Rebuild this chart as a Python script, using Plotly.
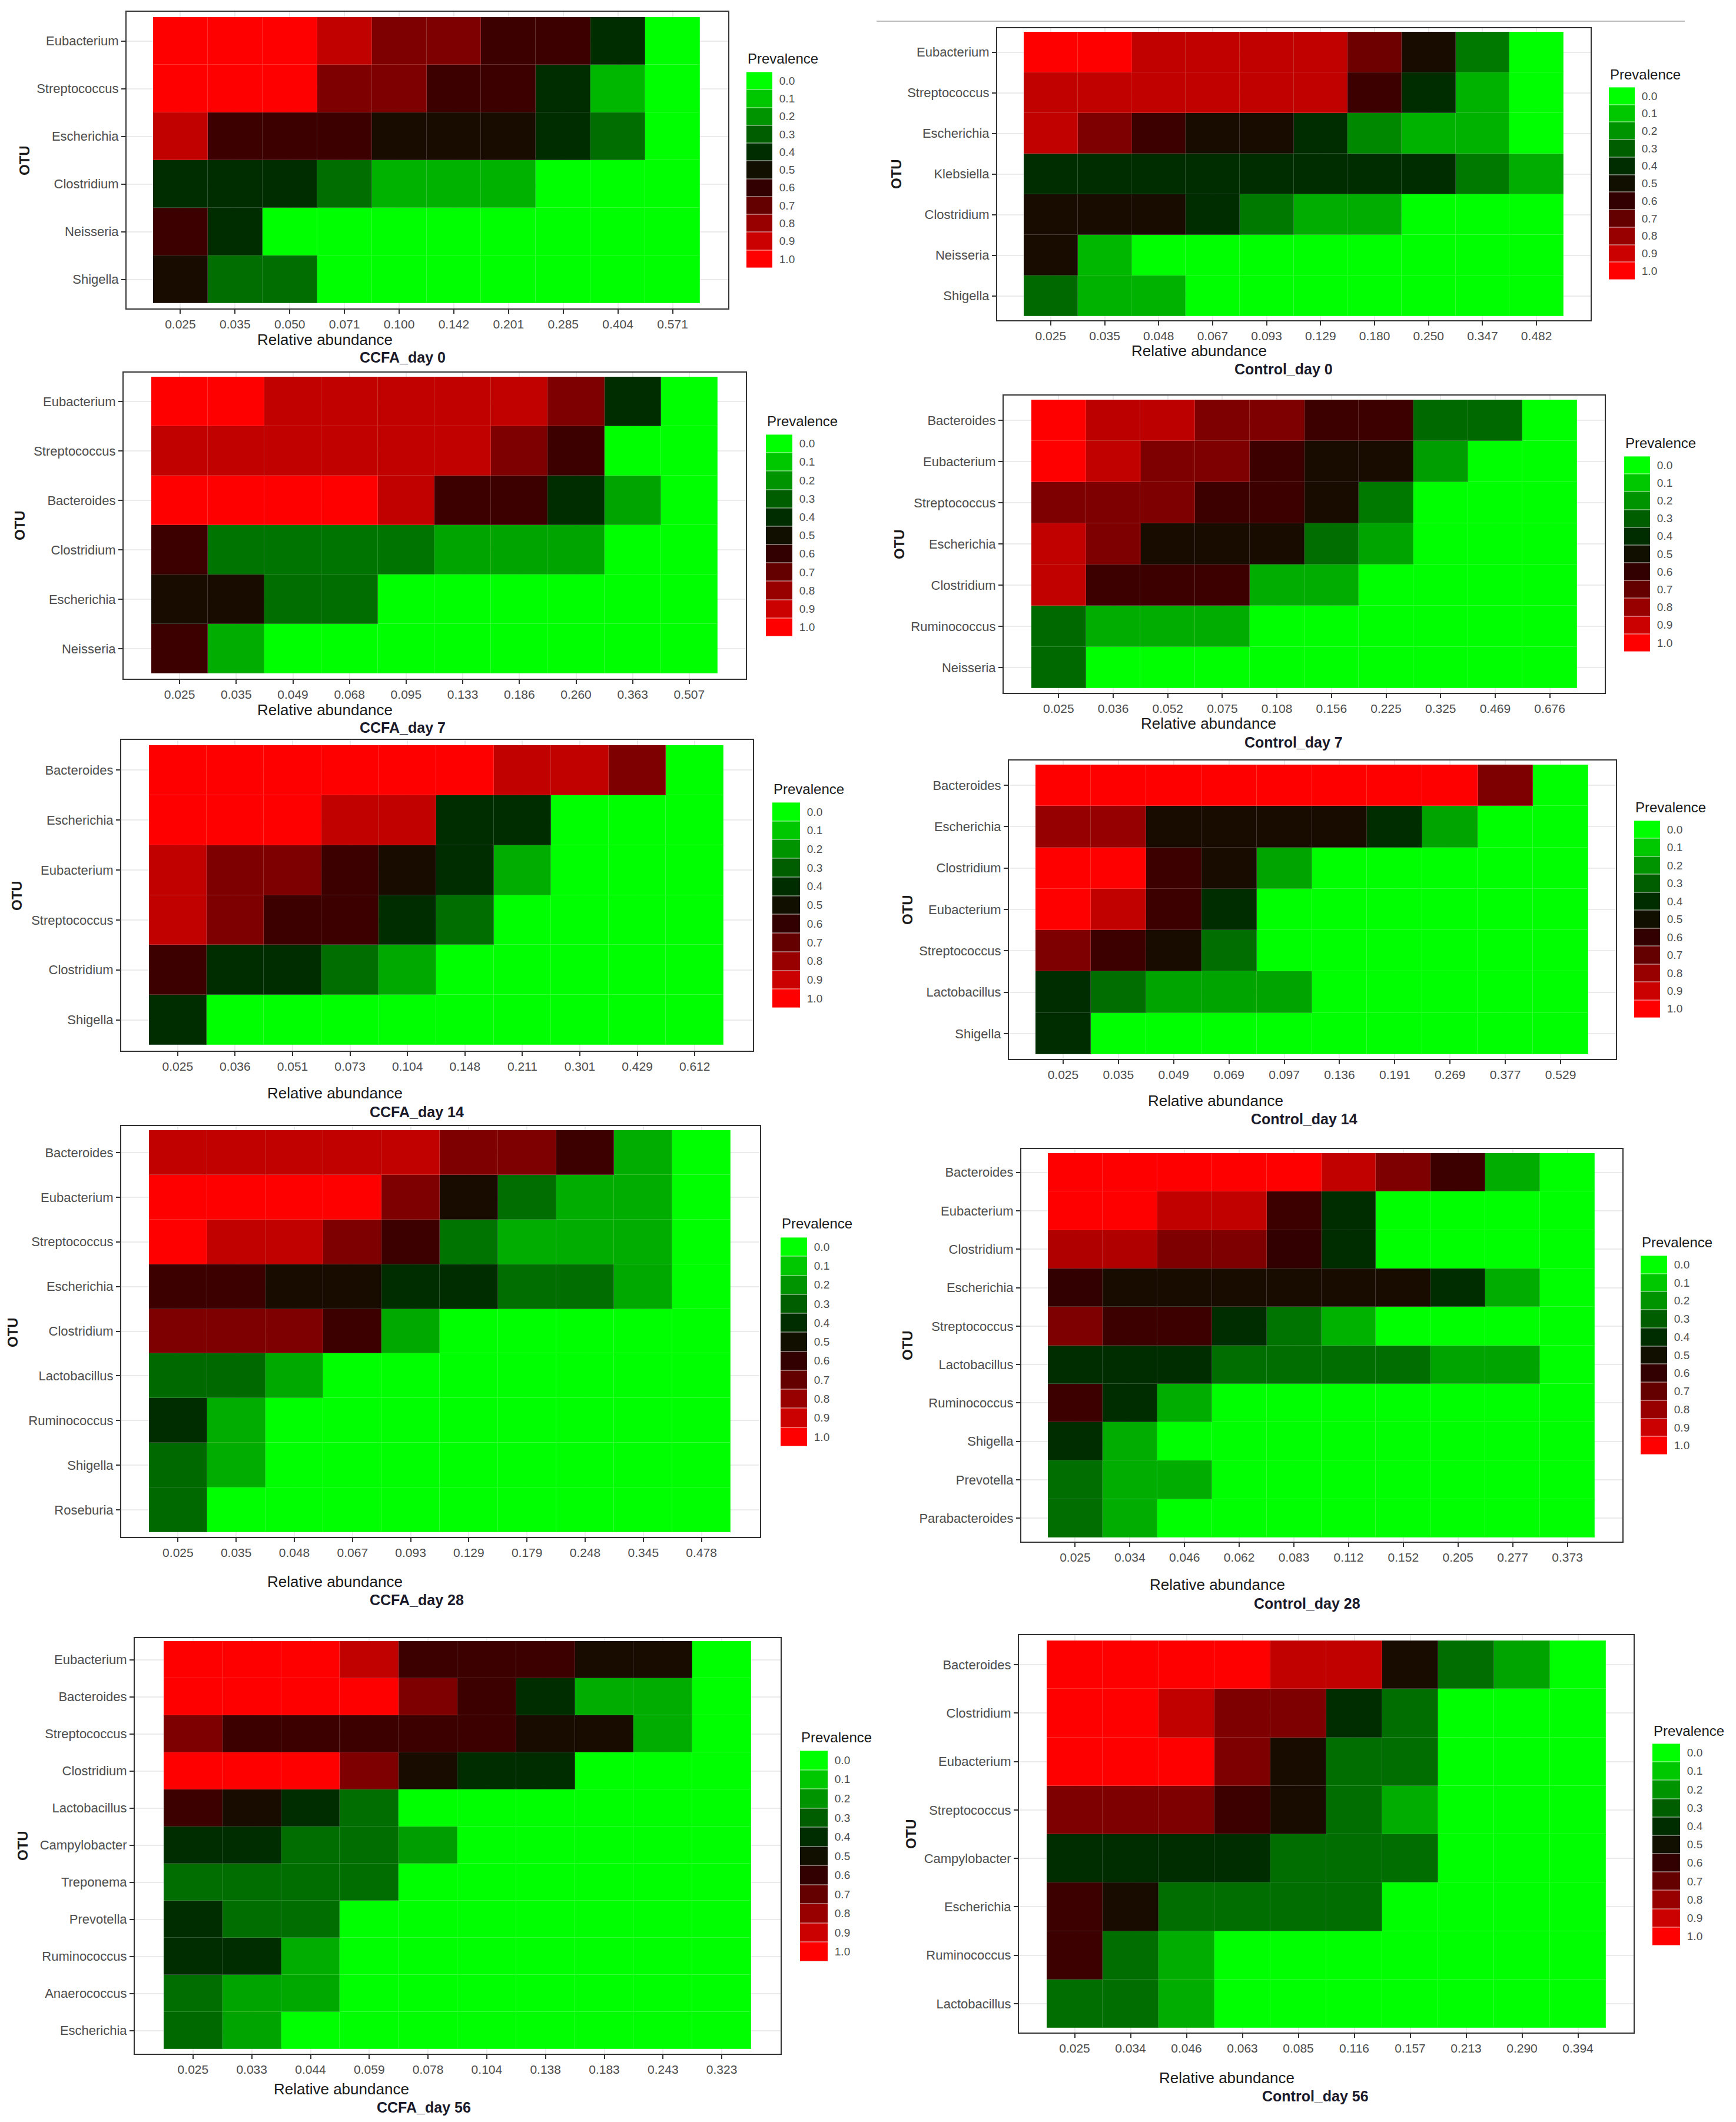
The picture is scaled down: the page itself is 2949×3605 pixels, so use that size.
import plotly.graph_objects as go

W, H = 2949, 3605

# ---------------- colour levels / legend ----------------
LEVEL_COLORS = ["#00FF00", "#00C800", "#009400", "#005E00", "#002E00",
                "#120F00", "#330000", "#650000", "#980000", "#CB0000", "#FF0000"]
LEGEND_VALUES = [0.0, 0.1, 0.2, 0.3, 0.4, 0.5, 0.6, 0.7, 0.8, 0.9, 1.0]
LEGEND_LABELS = ["0.0", "0.1", "0.2", "0.3", "0.4", "0.5", "0.6", "0.7", "0.8", "0.9", "1.0"]

# ---------------- data ----------------
CCFA_D0_TITLE = "CCFA_day 0"
CCFA_D0_ABUND = ["0.025", "0.035", "0.050", "0.071", "0.100", "0.142", "0.201", "0.285", "0.404", "0.571"]
CCFA_D0_OTU = ["Eubacterium", "Streptococcus", "Escherichia", "Clostridium", "Neisseria", "Shigella"]
CCFA_D0_PREV = [
    [1.0, 1.0, 1.0, 0.88, 0.75, 0.75, 0.62, 0.62, 0.40, 0.0],
    [1.0, 1.0, 1.0, 0.75, 0.75, 0.62, 0.62, 0.40, 0.13, 0.0],
    [0.88, 0.62, 0.62, 0.62, 0.52, 0.52, 0.52, 0.40, 0.27, 0.0],
    [0.40, 0.40, 0.40, 0.27, 0.14, 0.14, 0.14, 0.0, 0.0, 0.0],
    [0.62, 0.40, 0.0, 0.0, 0.0, 0.0, 0.0, 0.0, 0.0, 0.0],
    [0.52, 0.27, 0.27, 0.0, 0.0, 0.0, 0.0, 0.0, 0.0, 0.0],
]

CTRL_D0_TITLE = "Control_day 0"
CTRL_D0_ABUND = ["0.025", "0.035", "0.048", "0.067", "0.093", "0.129", "0.180", "0.250", "0.347", "0.482"]
CTRL_D0_OTU = ["Eubacterium", "Streptococcus", "Escherichia", "Klebsiella", "Clostridium", "Neisseria", "Shigella"]
CTRL_D0_PREV = [
    [1.0, 1.0, 0.88, 0.88, 0.88, 0.88, 0.72, 0.52, 0.25, 0.0],
    [0.88, 0.88, 0.88, 0.88, 0.88, 0.88, 0.62, 0.40, 0.14, 0.0],
    [0.88, 0.75, 0.62, 0.52, 0.52, 0.40, 0.22, 0.14, 0.14, 0.0],
    [0.40, 0.40, 0.40, 0.40, 0.40, 0.40, 0.40, 0.40, 0.25, 0.15],
    [0.52, 0.52, 0.52, 0.40, 0.25, 0.15, 0.15, 0.0, 0.0, 0.0],
    [0.52, 0.13, 0.0, 0.0, 0.0, 0.0, 0.0, 0.0, 0.0, 0.0],
    [0.28, 0.14, 0.14, 0.0, 0.0, 0.0, 0.0, 0.0, 0.0, 0.0],
]

CCFA_D7_TITLE = "CCFA_day 7"
CCFA_D7_ABUND = ["0.025", "0.035", "0.049", "0.068", "0.095", "0.133", "0.186", "0.260", "0.363", "0.507"]
CCFA_D7_OTU = ["Eubacterium", "Streptococcus", "Bacteroides", "Clostridium", "Escherichia", "Neisseria"]
CCFA_D7_PREV = [
    [1.0, 1.0, 0.88, 0.88, 0.88, 0.88, 0.88, 0.75, 0.40, 0.0],
    [0.88, 0.88, 0.88, 0.88, 0.88, 0.88, 0.75, 0.62, 0.0, 0.0],
    [1.0, 1.0, 1.0, 1.0, 0.88, 0.62, 0.62, 0.40, 0.17, 0.0],
    [0.62, 0.26, 0.26, 0.26, 0.26, 0.17, 0.17, 0.17, 0.0, 0.0],
    [0.52, 0.52, 0.27, 0.27, 0.0, 0.0, 0.0, 0.0, 0.0, 0.0],
    [0.62, 0.15, 0.0, 0.0, 0.0, 0.0, 0.0, 0.0, 0.0, 0.0],
]

CTRL_D7_TITLE = "Control_day 7"
CTRL_D7_ABUND = ["0.025", "0.036", "0.052", "0.075", "0.108", "0.156", "0.225", "0.325", "0.469", "0.676"]
CTRL_D7_OTU = ["Bacteroides", "Eubacterium", "Streptococcus", "Escherichia", "Clostridium", "Ruminococcus", "Neisseria"]
CTRL_D7_PREV = [
    [1.0, 0.87, 0.87, 0.75, 0.75, 0.62, 0.62, 0.28, 0.28, 0.0],
    [1.0, 0.88, 0.75, 0.75, 0.62, 0.52, 0.52, 0.18, 0.0, 0.0],
    [0.75, 0.75, 0.75, 0.62, 0.62, 0.52, 0.25, 0.0, 0.0, 0.0],
    [0.88, 0.75, 0.52, 0.52, 0.52, 0.27, 0.17, 0.0, 0.0, 0.0],
    [0.88, 0.62, 0.62, 0.62, 0.15, 0.15, 0.0, 0.0, 0.0, 0.0],
    [0.28, 0.15, 0.15, 0.15, 0.0, 0.0, 0.0, 0.0, 0.0, 0.0],
    [0.28, 0.0, 0.0, 0.0, 0.0, 0.0, 0.0, 0.0, 0.0, 0.0],
]

CCFA_D14_TITLE = "CCFA_day 14"
CCFA_D14_ABUND = ["0.025", "0.036", "0.051", "0.073", "0.104", "0.148", "0.211", "0.301", "0.429", "0.612"]
CCFA_D14_OTU = ["Bacteroides", "Escherichia", "Eubacterium", "Streptococcus", "Clostridium", "Shigella"]
CCFA_D14_PREV = [
    [1.0, 1.0, 1.0, 1.0, 1.0, 1.0, 0.88, 0.88, 0.75, 0.0],
    [1.0, 1.0, 1.0, 0.88, 0.88, 0.40, 0.40, 0.0, 0.0, 0.0],
    [0.88, 0.75, 0.75, 0.62, 0.52, 0.40, 0.15, 0.0, 0.0, 0.0],
    [0.88, 0.75, 0.62, 0.62, 0.40, 0.27, 0.0, 0.0, 0.0, 0.0],
    [0.62, 0.40, 0.40, 0.27, 0.16, 0.0, 0.0, 0.0, 0.0, 0.0],
    [0.40, 0.0, 0.0, 0.0, 0.0, 0.0, 0.0, 0.0, 0.0, 0.0],
]

CTRL_D14_TITLE = "Control_day 14"
CTRL_D14_ABUND = ["0.025", "0.035", "0.049", "0.069", "0.097", "0.136", "0.191", "0.269", "0.377", "0.529"]
CTRL_D14_OTU = ["Bacteroides", "Escherichia", "Clostridium", "Eubacterium", "Streptococcus", "Lactobacillus", "Shigella"]
CTRL_D14_PREV = [
    [1.0, 1.0, 1.0, 1.0, 1.0, 1.0, 1.0, 1.0, 0.75, 0.0],
    [0.80, 0.80, 0.52, 0.52, 0.52, 0.52, 0.40, 0.17, 0.0, 0.0],
    [1.0, 1.0, 0.62, 0.52, 0.17, 0.0, 0.0, 0.0, 0.0, 0.0],
    [1.0, 0.88, 0.62, 0.40, 0.0, 0.0, 0.0, 0.0, 0.0, 0.0],
    [0.75, 0.62, 0.52, 0.27, 0.0, 0.0, 0.0, 0.0, 0.0, 0.0],
    [0.40, 0.27, 0.17, 0.17, 0.17, 0.0, 0.0, 0.0, 0.0, 0.0],
    [0.40, 0.0, 0.0, 0.0, 0.0, 0.0, 0.0, 0.0, 0.0, 0.0],
]

CCFA_D28_TITLE = "CCFA_day 28"
CCFA_D28_ABUND = ["0.025", "0.035", "0.048", "0.067", "0.093", "0.129", "0.179", "0.248", "0.345", "0.478"]
CCFA_D28_OTU = ["Bacteroides", "Eubacterium", "Streptococcus", "Escherichia", "Clostridium",
                "Lactobacillus", "Ruminococcus", "Shigella", "Roseburia"]
CCFA_D28_PREV = [
    [0.88, 0.88, 0.88, 0.88, 0.88, 0.75, 0.75, 0.62, 0.15, 0.0],
    [1.0, 1.0, 1.0, 1.0, 0.75, 0.52, 0.27, 0.15, 0.15, 0.0],
    [1.0, 0.88, 0.88, 0.75, 0.62, 0.26, 0.15, 0.15, 0.15, 0.0],
    [0.62, 0.62, 0.52, 0.52, 0.40, 0.40, 0.27, 0.27, 0.16, 0.0],
    [0.75, 0.75, 0.75, 0.62, 0.16, 0.0, 0.0, 0.0, 0.0, 0.0],
    [0.28, 0.28, 0.16, 0.0, 0.0, 0.0, 0.0, 0.0, 0.0, 0.0],
    [0.40, 0.15, 0.0, 0.0, 0.0, 0.0, 0.0, 0.0, 0.0, 0.0],
    [0.28, 0.15, 0.0, 0.0, 0.0, 0.0, 0.0, 0.0, 0.0, 0.0],
    [0.28, 0.0, 0.0, 0.0, 0.0, 0.0, 0.0, 0.0, 0.0, 0.0],
]

CTRL_D28_TITLE = "Control_day 28"
CTRL_D28_ABUND = ["0.025", "0.034", "0.046", "0.062", "0.083", "0.112", "0.152", "0.205", "0.277", "0.373"]
CTRL_D28_OTU = ["Bacteroides", "Eubacterium", "Clostridium", "Escherichia", "Streptococcus",
                "Lactobacillus", "Ruminococcus", "Shigella", "Prevotella", "Parabacteroides"]
CTRL_D28_PREV = [
    [1.0, 1.0, 1.0, 1.0, 1.0, 0.88, 0.75, 0.62, 0.15, 0.0],
    [1.0, 1.0, 0.88, 0.88, 0.62, 0.40, 0.0, 0.0, 0.0, 0.0],
    [0.85, 0.85, 0.75, 0.75, 0.60, 0.40, 0.0, 0.0, 0.0, 0.0],
    [0.60, 0.52, 0.52, 0.52, 0.52, 0.52, 0.52, 0.40, 0.15, 0.0],
    [0.75, 0.62, 0.62, 0.40, 0.26, 0.14, 0.0, 0.0, 0.0, 0.0],
    [0.40, 0.40, 0.40, 0.27, 0.27, 0.27, 0.27, 0.17, 0.17, 0.0],
    [0.62, 0.40, 0.15, 0.0, 0.0, 0.0, 0.0, 0.0, 0.0, 0.0],
    [0.40, 0.15, 0.0, 0.0, 0.0, 0.0, 0.0, 0.0, 0.0, 0.0],
    [0.27, 0.15, 0.15, 0.0, 0.0, 0.0, 0.0, 0.0, 0.0, 0.0],
    [0.27, 0.15, 0.0, 0.0, 0.0, 0.0, 0.0, 0.0, 0.0, 0.0],
]

CCFA_D56_TITLE = "CCFA_day 56"
CCFA_D56_ABUND = ["0.025", "0.033", "0.044", "0.059", "0.078", "0.104", "0.138", "0.183", "0.243", "0.323"]
CCFA_D56_OTU = ["Eubacterium", "Bacteroides", "Streptococcus", "Clostridium", "Lactobacillus", "Campylobacter",
                "Treponema", "Prevotella", "Ruminococcus", "Anaerococcus", "Escherichia"]
CCFA_D56_PREV = [
    [1.0, 1.0, 1.0, 0.88, 0.62, 0.62, 0.62, 0.52, 0.52, 0.0],
    [1.0, 1.0, 1.0, 1.0, 0.75, 0.62, 0.40, 0.15, 0.15, 0.0],
    [0.75, 0.62, 0.62, 0.62, 0.62, 0.62, 0.52, 0.52, 0.15, 0.0],
    [1.0, 1.0, 1.0, 0.75, 0.52, 0.40, 0.40, 0.0, 0.0, 0.0],
    [0.62, 0.52, 0.40, 0.27, 0.0, 0.0, 0.0, 0.0, 0.0, 0.0],
    [0.40, 0.40, 0.27, 0.27, 0.18, 0.0, 0.0, 0.0, 0.0, 0.0],
    [0.27, 0.27, 0.27, 0.27, 0.0, 0.0, 0.0, 0.0, 0.0, 0.0],
    [0.40, 0.27, 0.27, 0.0, 0.0, 0.0, 0.0, 0.0, 0.0, 0.0],
    [0.40, 0.40, 0.15, 0.0, 0.0, 0.0, 0.0, 0.0, 0.0, 0.0],
    [0.27, 0.17, 0.16, 0.0, 0.0, 0.0, 0.0, 0.0, 0.0, 0.0],
    [0.28, 0.17, 0.0, 0.0, 0.0, 0.0, 0.0, 0.0, 0.0, 0.0],
]

CTRL_D56_TITLE = "Control_day 56"
CTRL_D56_ABUND = ["0.025", "0.034", "0.046", "0.063", "0.085", "0.116", "0.157", "0.213", "0.290", "0.394"]
CTRL_D56_OTU = ["Bacteroides", "Clostridium", "Eubacterium", "Streptococcus", "Campylobacter",
                "Escherichia", "Ruminococcus", "Lactobacillus"]
CTRL_D56_PREV = [
    [1.0, 1.0, 1.0, 1.0, 0.88, 0.88, 0.52, 0.27, 0.17, 0.0],
    [1.0, 1.0, 0.88, 0.75, 0.75, 0.40, 0.27, 0.0, 0.0, 0.0],
    [1.0, 1.0, 1.0, 0.75, 0.52, 0.27, 0.27, 0.0, 0.0, 0.0],
    [0.75, 0.75, 0.75, 0.62, 0.52, 0.27, 0.15, 0.0, 0.0, 0.0],
    [0.40, 0.40, 0.40, 0.40, 0.27, 0.27, 0.27, 0.0, 0.0, 0.0],
    [0.62, 0.52, 0.27, 0.27, 0.27, 0.27, 0.0, 0.0, 0.0, 0.0],
    [0.62, 0.27, 0.15, 0.0, 0.0, 0.0, 0.0, 0.0, 0.0, 0.0],
    [0.27, 0.27, 0.15, 0.0, 0.0, 0.0, 0.0, 0.0, 0.0, 0.0],
]

PANELS = [
    (CCFA_D0_TITLE, CCFA_D0_ABUND, CCFA_D0_OTU, CCFA_D0_PREV),
    (CTRL_D0_TITLE, CTRL_D0_ABUND, CTRL_D0_OTU, CTRL_D0_PREV),
    (CCFA_D7_TITLE, CCFA_D7_ABUND, CCFA_D7_OTU, CCFA_D7_PREV),
    (CTRL_D7_TITLE, CTRL_D7_ABUND, CTRL_D7_OTU, CTRL_D7_PREV),
    (CCFA_D14_TITLE, CCFA_D14_ABUND, CCFA_D14_OTU, CCFA_D14_PREV),
    (CTRL_D14_TITLE, CTRL_D14_ABUND, CTRL_D14_OTU, CTRL_D14_PREV),
    (CCFA_D28_TITLE, CCFA_D28_ABUND, CCFA_D28_OTU, CCFA_D28_PREV),
    (CTRL_D28_TITLE, CTRL_D28_ABUND, CTRL_D28_OTU, CTRL_D28_PREV),
    (CCFA_D56_TITLE, CCFA_D56_ABUND, CCFA_D56_OTU, CCFA_D56_PREV),
    (CTRL_D56_TITLE, CTRL_D56_ABUND, CTRL_D56_OTU, CTRL_D56_PREV),
]

# ---------------- layout geometry (pixels, top-left origin) ----------------
GEOM = [
    dict(border=(215, 1237, 20, 524), cells=(260, 1189, 29, 515), legend=(1268, 1312, 122, 455),
         prev_y=100, ra=(552, 577), title=(684, 607), otu=(42, 273)),
    dict(border=(1694, 2702, 48, 544), cells=(1739, 2656, 54, 537), legend=(2733, 2777, 148, 475),
         prev_y=126, ra=(2037, 596), title=(2180, 627), otu=(1522, 296)),
    dict(border=(210, 1267, 633, 1153), cells=(257, 1219, 640, 1144), legend=(1301, 1346, 738, 1081),
         prev_y=715, ra=(552, 1206), title=(684, 1236), otu=(33, 893)),
    dict(border=(1705, 2726, 672, 1177), cells=(1752, 2679, 679, 1169), legend=(2759, 2803, 775, 1107),
         prev_y=752, ra=(2053, 1229), title=(2197, 1261), otu=(1527, 925)),
    dict(border=(206, 1279, 1257, 1785), cells=(253, 1229, 1266, 1775), legend=(1312, 1359, 1363, 1712),
         prev_y=1340, ra=(569, 1857), title=(708, 1889), otu=(28, 1522)),
    dict(border=(1714, 2745, 1292, 1799), cells=(1759, 2698, 1299, 1791), legend=(2776, 2820, 1394, 1729),
         prev_y=1372, ra=(2065, 1870), title=(2215, 1901), otu=(1541, 1546)),
    dict(border=(206, 1291, 1913, 2611), cells=(253, 1241, 1920, 2603), legend=(1326, 1371, 2102, 2457),
         prev_y=2078, ra=(569, 2687), title=(708, 2718), otu=(21, 2264)),
    dict(border=(1735, 2756, 1952, 2619), cells=(1780, 2709, 1959, 2612), legend=(2787, 2832, 2133, 2471),
         prev_y=2110, ra=(2068, 2692), title=(2220, 2724), otu=(1541, 2286)),
    dict(border=(229, 1326, 2783, 3489), cells=(278, 1276, 2788, 3481), legend=(1359, 1406, 2974, 3332),
         prev_y=2951, ra=(580, 3549), title=(720, 3580), otu=(38, 3136)),
    dict(border=(1731, 2775, 2778, 3453), cells=(1778, 2728, 2787, 3445), legend=(2807, 2854, 2962, 3305),
         prev_y=2940, ra=(2084, 3530), title=(2234, 3561), otu=(1547, 3116)),
]

FONT = "Liberation Sans, Arial, sans-serif"
TICK_GREY = "#4D4D4D"
DARK = "#1A1A1A"


def px(x):
    return x / W


def py(y):
    return 1 - y / H


colorscale = [[i / 10, c] for i, c in enumerate(LEVEL_COLORS)]

fig = go.Figure()
layout = {}
annotations = []

for i, ((title, abund, otu, prev), g) in enumerate(zip(PANELS, GEOM)):
    km, kl = 2 * i + 1, 2 * i + 2
    sm = "" if km == 1 else str(km)
    sl = str(kl)
    bx0, bx1, by0, by1 = g["border"]
    cx0, cx1, cy0, cy1 = g["cells"]
    n, m = len(abund), len(otu)
    cw = (cx1 - cx0) / n
    ch = (cy1 - cy0) / m
    xr = [-0.5 - (cx0 - bx0) / cw, n - 0.5 + (bx1 - cx1) / cw]
    yr = [m - 0.5 + (by1 - cy1) / ch, -0.5 - (cy0 - by0) / ch]

    # tiles with thin white separators, then a semi-opaque copy to soften them
    fig.add_trace(go.Heatmap(
        z=prev, x=abund, y=otu, xaxis="x" + sm, yaxis="y" + sm,
        colorscale=colorscale, zmin=0, zmax=1, showscale=False,
        xgap=1, ygap=1, hoverinfo="skip"))
    fig.add_trace(go.Heatmap(
        z=prev, x=abund, y=otu, xaxis="x" + sm, yaxis="y" + sm,
        colorscale=colorscale, zmin=0, zmax=1, showscale=False,
        opacity=0.82, hoverinfo="skip"))

    common = dict(showgrid=True, gridcolor="#EBEBEB", gridwidth=2, zeroline=False,
                  showline=True, mirror=True, linecolor="#333333", linewidth=2,
                  ticks="outside", ticklen=7, tickwidth=2, tickcolor="#333333",
                  type="category", fixedrange=True)
    layout["xaxis" + sm] = dict(domain=[px(bx0), px(bx1)], range=xr, anchor="y" + sm,
                                tickfont=dict(family=FONT, size=21, color=TICK_GREY), **common)
    layout["yaxis" + sm] = dict(domain=[py(by1), py(by0)], range=yr, anchor="x" + sm,
                                tickfont=dict(family=FONT, size=22, color=TICK_GREY), **common)

    # legend (discrete keys)
    lx0, lx1, ly0, ly1 = g["legend"]
    leg_z = [[v] for v in LEGEND_VALUES]
    fig.add_trace(go.Heatmap(
        z=leg_z, x=[0], y=LEGEND_LABELS,
        xaxis="x" + sl, yaxis="y" + sl, colorscale=colorscale, zmin=0, zmax=1,
        showscale=False, ygap=2, hoverinfo="skip"))
    fig.add_trace(go.Heatmap(
        z=leg_z, x=[0], y=LEGEND_LABELS,
        xaxis="x" + sl, yaxis="y" + sl, colorscale=colorscale, zmin=0, zmax=1,
        showscale=False, opacity=0.6, hoverinfo="skip"))
    layout["xaxis" + sl] = dict(domain=[px(lx0), px(lx1)], range=[-0.5, 0.5], anchor="y" + sl,
                                showticklabels=False, showgrid=False, zeroline=False,
                                showline=False, ticks="", fixedrange=True)
    layout["yaxis" + sl] = dict(domain=[py(ly1), py(ly0)], range=[len(LEGEND_LABELS) - 0.5, -0.5],
                                anchor="x" + sl, side="right", type="category",
                                showgrid=False, zeroline=False, showline=False,
                                ticks="outside", ticklen=7, tickcolor="rgba(0,0,0,0)",
                                tickfont=dict(family=FONT, size=19, color=TICK_GREY), fixedrange=True)

    annotations.append(dict(text="Prevalence", x=px(lx0), y=py(g["prev_y"]), xref="paper", yref="paper",
                            xanchor="left", yanchor="middle", showarrow=False,
                            font=dict(family=FONT, size=24, color=DARK)))
    annotations.append(dict(text="Relative abundance", x=px(g["ra"][0]), y=py(g["ra"][1]),
                            xref="paper", yref="paper", xanchor="center", yanchor="middle",
                            showarrow=False, font=dict(family=FONT, size=26, color=DARK)))
    annotations.append(dict(text="<b>" + title + "</b>", x=px(g["title"][0]), y=py(g["title"][1]),
                            xref="paper", yref="paper", xanchor="center", yanchor="middle",
                            showarrow=False, font=dict(family=FONT, size=25, color="#1A1A2A")))
    annotations.append(dict(text="<b>OTU</b>", x=px(g["otu"][0]), y=py(g["otu"][1]),
                            xref="paper", yref="paper", xanchor="center", yanchor="middle",
                            textangle=-90, showarrow=False,
                            font=dict(family=FONT, size=24, color=DARK)))

shapes = [dict(type="line", xref="paper", yref="paper", x0=px(1489), x1=px(2862),
               y0=py(36), y1=py(36), line=dict(color="#BBBBBB", width=2))]

fig.update_layout(width=W, height=H, margin=dict(l=0, r=0, t=0, b=0, pad=0),
                  paper_bgcolor="white", plot_bgcolor="white", showlegend=False,
                  annotations=annotations, shapes=shapes, **layout)

fig.write_html("out.html", config={"displayModeBar": False},
               post_script="document.body.style.margin='0';")
